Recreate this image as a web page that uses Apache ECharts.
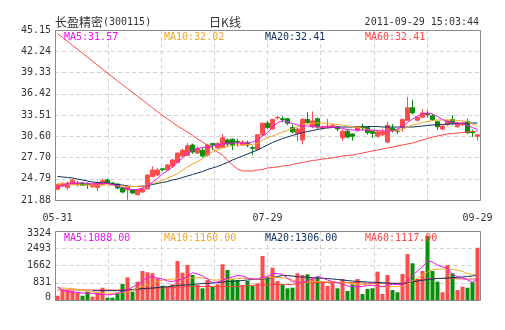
<!DOCTYPE html>
<html><head><meta charset="utf-8">
<script src="https://cdn.jsdelivr.net/npm/echarts@6/dist/echarts.min.js"></script>
<style>html,body{margin:0;padding:0;background:#fff}#c{width:505px;height:330px}</style>
</head><body><div id="c"></div>
<script>
// ---- data ----
const opens  = [23.35,23.80,23.60,24.00,24.00,24.20,24.10,23.70,23.60,24.00,
                24.62,24.20,24.07,23.52,23.25,23.25,22.60,22.97,23.39,25.10,
                25.30,26.15,25.99,26.50,27.00,27.90,28.00,29.40,28.30,28.70,
                28.00,29.60,29.00,29.10,30.10,30.20,29.90,29.40,29.70,29.05,
                28.80,30.80,32.40,31.60,33.10,33.00,33.00,31.80,31.00,30.10,
                32.90,31.90,33.00,31.80,31.90,31.90,31.90,30.40,31.30,30.90,
                31.40,31.90,31.80,31.30,30.60,30.80,29.80,31.70,31.40,31.90,
                32.80,34.50,32.80,33.20,33.70,33.40,32.60,31.60,32.20,32.90,
                31.90,32.20,32.60,31.20,30.60];
const closes = [24.03,24.10,24.20,24.60,24.20,23.90,24.00,24.10,24.20,24.50,
                24.21,24.10,23.52,22.97,23.66,22.85,23.25,23.39,25.30,25.99,
                25.99,26.05,26.67,27.36,28.30,28.70,29.30,28.45,28.90,27.90,
                29.40,29.40,29.60,30.40,29.55,29.40,29.80,29.80,29.40,28.95,
                30.80,32.40,31.80,32.90,33.20,32.90,32.40,31.20,31.60,32.90,
                32.50,32.70,31.90,31.90,32.00,32.10,31.60,31.30,30.50,30.60,
                31.90,31.80,31.10,31.00,31.20,31.20,32.10,31.40,31.30,32.90,
                34.50,33.80,33.20,33.80,33.60,32.90,31.90,32.00,32.70,32.40,
                32.40,32.40,31.10,31.10,30.80];
const lows   = [23.20,23.70,23.30,23.90,23.70,23.80,23.40,23.50,23.10,23.90,
                24.10,23.90,23.40,22.80,21.90,22.70,22.50,22.90,23.30,25.00,
                25.20,25.80,25.90,26.30,26.90,27.80,27.90,28.20,28.20,27.70,
                27.80,28.70,28.90,29.00,29.20,28.70,29.20,29.30,29.10,28.00,
                28.70,30.60,31.60,31.50,32.90,32.50,32.10,31.00,29.90,29.50,
                32.30,31.70,31.60,31.50,31.70,31.80,31.30,30.00,30.30,30.00,
                31.20,31.40,30.80,30.40,30.40,30.60,29.70,31.10,30.90,31.20,
                32.70,33.60,32.60,33.10,33.20,32.70,31.50,31.40,32.00,32.20,
                31.80,32.00,30.90,30.50,30.00];
const highs  = [24.10,24.30,24.40,24.80,24.50,24.30,24.30,24.20,24.40,24.80,
                24.80,24.30,24.10,23.60,23.90,23.30,23.40,23.60,25.40,26.50,
                26.30,26.30,26.80,27.50,28.40,28.90,29.70,29.60,29.20,29.00,
                29.60,29.70,29.80,30.90,30.30,30.30,30.30,30.10,30.00,29.30,
                30.90,32.50,32.70,33.00,33.40,33.30,33.10,32.20,31.80,33.10,
                33.90,34.00,33.20,32.10,33.00,32.30,32.00,31.50,31.50,31.00,
                32.00,32.30,31.90,31.40,31.30,31.60,32.60,32.30,31.60,33.00,
                36.00,35.60,33.30,34.30,34.10,33.60,32.70,32.10,32.90,33.50,
                32.60,32.60,33.00,31.50,30.90];
const ma5  = [23.59,23.87,24.07,24.14,24.21,24.21,24.14,24.07,24.07,24.14,
              24.14,24.00,23.80,23.59,23.39,23.32,23.32,23.52,23.87,24.34,
              24.82,25.44,25.92,26.40,27.08,27.63,28.25,28.66,28.93,29.07,
              29.13,29.27,29.41,29.55,29.61,29.68,29.68,29.68,29.68,29.82,
              30.09,30.64,31.05,31.87,32.42,32.76,32.56,32.35,32.15,32.01,
              32.01,31.94,31.87,31.87,31.87,31.87,31.80,31.67,31.53,31.46,
              31.46,31.46,31.46,31.46,31.39,31.33,31.33,31.33,31.60,31.94,
              32.49,32.97,33.38,33.65,33.79,33.65,33.31,32.90,32.62,32.49,
              32.42,32.35,32.08,31.80,31.53];
const ma10 = [24.07,24.07,24.00,24.00,23.93,23.93,23.93,23.93,23.93,23.93,
              23.93,23.87,23.80,23.80,23.73,23.73,23.73,23.80,23.93,24.14,
              24.34,24.55,24.89,25.17,25.51,25.99,26.40,26.81,27.15,27.49,
              28.04,28.45,28.72,29.00,29.20,29.34,29.41,29.41,29.48,29.48,
              29.61,30.09,30.43,30.64,30.91,31.19,31.39,31.67,31.94,32.15,
              32.28,32.35,32.42,32.42,32.35,32.28,32.21,32.15,32.01,31.87,
              31.80,31.74,31.53,31.39,31.33,31.33,31.33,31.33,31.39,31.53,
              31.87,32.15,32.28,32.49,32.62,32.76,32.83,32.83,32.83,32.83,
              32.76,32.69,32.56,32.28,32.01];
const ma20 = [25.10,25.03,24.96,24.89,24.75,24.62,24.48,24.34,24.28,24.21,
              24.14,24.07,24.00,23.93,23.80,23.73,23.73,23.80,23.86,24.00,
              24.14,24.28,24.41,24.62,24.75,24.96,25.17,25.37,25.58,25.78,
              26.06,26.26,26.47,26.74,27.01,27.36,27.63,27.90,28.18,28.45,
              28.72,29.07,29.41,29.75,30.02,30.30,30.50,30.71,30.91,31.12,
              31.26,31.39,31.53,31.67,31.74,31.80,31.87,31.87,31.87,31.87,
              31.87,31.87,31.94,31.94,31.94,31.87,31.87,31.87,31.87,31.87,
              31.87,31.87,31.94,32.01,32.08,32.15,32.21,32.21,32.28,32.28,
              32.35,32.35,32.42,32.42,32.42];
const ma60 = [44.67,44.12,43.59,43.04,42.51,41.96,41.43,40.88,40.35,39.80,
              39.26,38.72,38.18,37.66,37.13,36.61,36.08,35.56,35.02,34.50,
              33.97,33.45,32.97,32.49,32.01,31.60,31.19,30.71,30.23,29.82,
              29.34,28.93,28.45,28.04,27.36,26.67,26.12,25.85,25.85,25.85,
              25.99,26.06,26.26,26.33,26.40,26.53,26.60,26.74,26.88,27.01,
              27.15,27.29,27.36,27.49,27.56,27.63,27.77,27.90,27.97,28.04,
              28.18,28.31,28.45,28.59,28.72,28.86,29.00,29.13,29.27,29.41,
              29.55,29.68,29.89,30.09,30.30,30.50,30.64,30.78,30.91,30.98,
              31.05,31.12,31.19,31.26,31.33];
const volumes = [207,482,482,434,337,207,400,159,337,592,
                 111,111,323,771,1093,400,882,1397,1334,1286,
                 1045,689,641,756,1879,1315,1686,1204,723,564,
                 963,626,756,1720,1445,997,963,723,915,674,
                 804,2119,1122,1556,915,723,564,592,1286,1204,
                 1238,1045,1122,853,674,882,564,1012,434,756,
                 1012,289,530,564,1363,289,1204,482,371,1252,
                 2216,1768,1012,1397,3097,1397,882,371,1686,1286,
                 482,641,592,853,2519];
const volMa5 = [626,482,400,385,361,337,323,313,289,265,
                241,265,323,385,482,626,747,915,1084,1122,
                1060,1012,915,882,963,1012,1122,1315,1252,1156,
                1012,819,867,963,1045,1108,1180,1156,1060,1012,
                1012,1084,1122,1277,1277,1238,1060,882,867,853,
                915,1045,1122,1060,963,891,833,771,674,660,
                641,650,698,723,674,641,698,756,747,723,
                915,1180,1397,1590,1879,1830,1686,1590,1527,1228,
                1132,1074,963,853,1012];
const volMa10 = [592,578,564,554,506,458,409,385,361,337,
                 323,323,337,352,385,482,564,650,723,795,
                 891,963,987,1012,1012,1026,1045,1060,1074,1060,
                 1012,963,963,987,997,1012,1036,1045,1036,1012,
                 997,1036,1074,1084,1084,1074,1036,963,891,853,
                 867,882,891,891,882,867,843,833,819,795,
                 771,747,723,689,660,641,641,641,650,674,
                 771,915,1060,1204,1349,1469,1479,1493,1493,1469,
                 1445,1373,1277,1228,1204];
const volMa20 = [null,null,null,null,null,null,null,448,448,448,
                 448,448,448,458,482,506,530,554,564,578,
                 602,626,641,674,698,723,723,747,771,795,
                 804,819,843,867,891,901,915,939,963,987,
                 997,1012,1036,1084,1132,1180,1180,1156,1122,1108,
                 1093,1074,1060,1045,1036,1012,987,963,939,915,
                 891,882,867,853,843,833,819,804,785,771,
                 819,867,915,949,987,1012,1036,1045,1060,1074,
                 1093,1108,1132,1156,1204];
const volMa60 = [482,482,482,482,482,482,482,482,482,482,
                 482,482,482,482,482,482,482,506,530,544,
                 564,578,592,602,612,626,641,650,650,650,
                 650,650,650,650,650,650,650,674,698,708,
                 723,723,732,747,747,747,747,747,795,843,
                 843,843,843,843,843,843,843,843,843,843,
                 843,819,804,804,804,804,804,804,804,819,
                 867,915,963,997,1036,1036,1036,1036,1036,1036,
                 1026,1012,1012,1012,1012];
const priceTicks = ['21.88','24.79','27.70','30.60','33.51','36.42','39.33','42.24','45.15'];
const priceMin = 21.88, priceMax = 45.15;
const volTicks = [0, 831, 1662, 2493, 3324];
const dateLabels = {0:'05-31', 42:'07-29', 84:'09-29'};
const stockName = '长盈精密', stockCode = '(300115)', chartKind = '日K线', stamp = '2011-09-29 15:03:44';
const priceLegend = [['MA5:31.57','#ee11ee'],['MA10:32.02','#f5a623'],['MA20:32.41','#0c2f5c'],['MA60:32.41','#ff4444']];
const volLegend   = [['MA5:1088.00','#ee11ee'],['MA10:1160.00','#f5a623'],['MA20:1306.00','#0c2f5c'],['MA60:1117.00','#ff4444']];

// ---- chart ----
const UP = '#ff4d4d', DOWN = '#0a8f0a';
const MONO = 'DejaVu Sans Mono', CJK = 'Noto Sans CJK SC';
const maColors = ['#ee11ee','#f5a623','#0c2f5c','#ff4444'];
const cats = closes.map((_, i) => String(i));
const candleData = opens.map((o, i) => [o, closes[i], lows[i], highs[i]]);
const volData = volumes.map((v, i) => ({value: v, itemStyle: {color: closes[i] >= opens[i] ? UP : DOWN}}));
const dash = {show: true, lineStyle: {color: '#d2d2d2', type: [4, 3], width: 1}};

function lineSeries(data, color, xi, yi) {
  return {type: 'line', data, xAxisIndex: xi, yAxisIndex: yi, showSymbol: false, symbol: 'none',
          lineStyle: {color, width: 1}, itemStyle: {color}, silent: true, animation: false, connectNulls: false};
}
function txt(x, y, text, color, font, size, align) {
  return {type: 'text', x, y, z: 200, silent: true,
          style: {text, fill: color, fontFamily: font, fontSize: size,
                  align: align || 'left', verticalAlign: 'middle', textAlign: align || 'left', textVerticalAlign: 'middle'}};
}

const L = 55, W = 425, T1 = 30, H1 = 170, T2 = 231, H2 = 69;
const graphics = [
  {type: 'rect', z: 150, silent: true, shape: {x: L + 0.5, y: T1 + 0.5, width: W, height: H1}, style: {fill: 'none', stroke: '#8a8a8a', lineWidth: 1}},
  {type: 'rect', z: 150, silent: true, shape: {x: L + 0.5, y: T2 + 0.5, width: W, height: H2}, style: {fill: 'none', stroke: '#8a8a8a', lineWidth: 1}},
  txt(55, 22, stockName, '#333', CJK, 12),
  txt(103, 22, stockCode, '#333', MONO, 10),
  txt(225, 22, chartKind, '#333', CJK, 12, 'center'),
  txt(479, 22, stamp, '#333', MONO, 10, 'right')
];
const legX = [64, 164, 265, 365];
priceLegend.forEach((p, i) => graphics.push(txt(legX[i], 37, p[0], p[1], MONO, 10)));
volLegend.forEach((p, i) => graphics.push(txt(legX[i], 238, p[0], p[1], MONO, 10)));

const chart = echarts.init(document.getElementById('c'), null, {renderer: 'canvas'});
chart.setOption({
  animation: false,
  backgroundColor: '#fff',
  grid: [
    {left: L, top: T1, width: W, height: H1, containLabel: false},
    {left: L, top: T2, width: W, height: H2, containLabel: false}
  ],
  xAxis: [
    {type: 'category', gridIndex: 0, data: cats, boundaryGap: true,
     axisLine: {show: false}, axisTick: {show: false}, splitLine: {show: false},
     axisLabel: {interval: (idx) => dateLabels[idx] !== undefined, formatter: (v) => dateLabels[v] || '',
                 margin: 13, color: '#333', fontFamily: MONO, fontSize: 10, hideOverlap: false}},
    {type: 'value', gridIndex: 0, min: 0, max: 8, interval: 1, axisLabel: {show: false},
     axisLine: {show: false}, axisTick: {show: false}, splitLine: dash},
    {type: 'category', gridIndex: 1, data: cats, boundaryGap: true,
     axisLine: {show: false}, axisTick: {show: false}, axisLabel: {show: false}, splitLine: {show: false}},
    {type: 'value', gridIndex: 1, min: 0, max: 8, interval: 1, axisLabel: {show: false},
     axisLine: {show: false}, axisTick: {show: false}, splitLine: dash}
  ],
  yAxis: [
    {type: 'value', gridIndex: 0, min: 0, max: 8, interval: 1,
     axisLine: {show: false}, axisTick: {show: false}, splitLine: dash,
     axisLabel: {formatter: (v) => priceTicks[Math.round(v)], margin: 4, color: '#333', fontFamily: MONO, fontSize: 10}},
    {type: 'value', gridIndex: 0, min: priceMin, max: priceMax, show: false, splitLine: {show: false}},
    {type: 'value', gridIndex: 1, min: volTicks[0], max: volTicks[volTicks.length - 1], interval: volTicks[1] - volTicks[0],
     axisLine: {show: false}, axisTick: {show: false}, splitLine: dash,
     axisLabel: {margin: 4, color: '#333', fontFamily: MONO, fontSize: 10,
       formatter: (v) => v === volTicks[0] ? '{lo|' + v + '}' : (v === volTicks[volTicks.length - 1] ? '{hi|' + v + '}' : String(v)),
       rich: {lo: {padding: [0, 0, 6, 0], fontFamily: MONO, fontSize: 10, color: '#333'},
              hi: {padding: [4, 0, 0, 0], fontFamily: MONO, fontSize: 10, color: '#333'}}}}
  ],
  series: [
    lineSeries(ma60, maColors[3], 0, 1),
    {type: 'candlestick', xAxisIndex: 0, yAxisIndex: 1, data: candleData, barWidth: 4, silent: true,
     itemStyle: {color: UP, color0: DOWN, borderColor: UP, borderColor0: DOWN, borderWidth: 1}},
    lineSeries(ma20, maColors[2], 0, 1),
    lineSeries(ma10, maColors[1], 0, 1),
    lineSeries(ma5, maColors[0], 0, 1),
    {type: 'bar', xAxisIndex: 2, yAxisIndex: 2, data: volData, barWidth: 4, silent: true},
    lineSeries(volMa60, maColors[3], 2, 2),
    lineSeries(volMa20, maColors[2], 2, 2),
    lineSeries(volMa10, maColors[1], 2, 2),
    lineSeries(volMa5, maColors[0], 2, 2)
  ],
  graphic: graphics
});
</script></body></html>
